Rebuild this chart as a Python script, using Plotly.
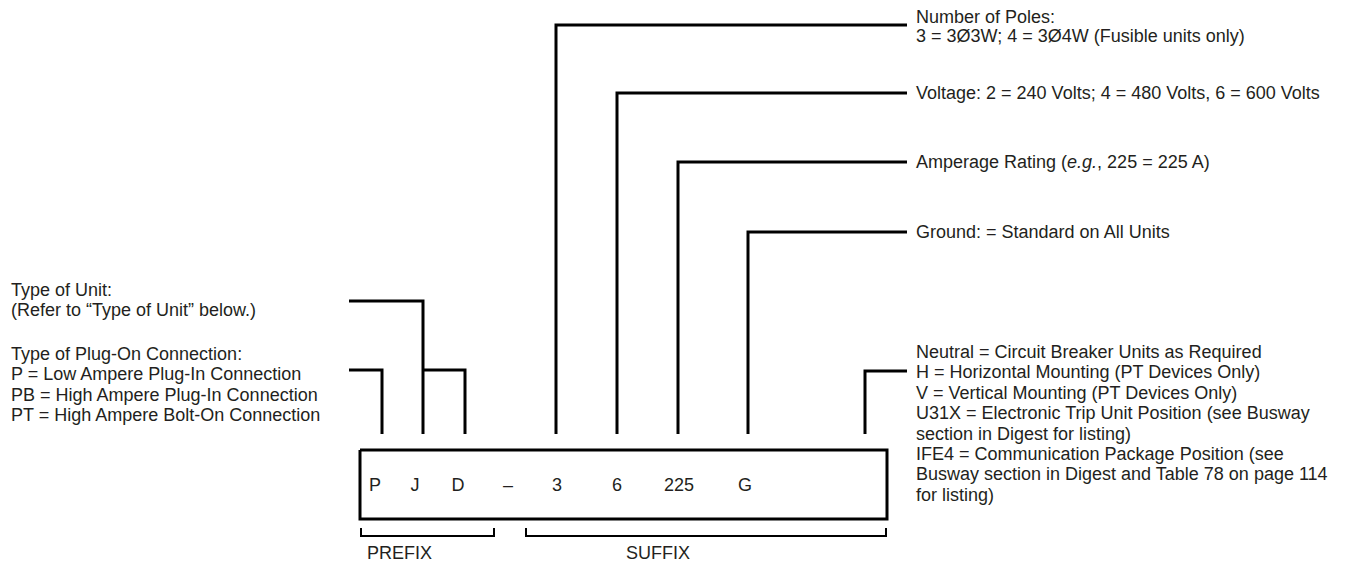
import plotly.graph_objects as go

# catalog number characters shown in the box
code_chars = ["P", "J", "D", "–", "3", "6", "225", "G"]
code_x = [375, 415, 458, 508, 557, 617, 679, 745]

# leaders: (box x, turn y, end x)
leader_x = [556, 617, 678, 748, 865, 423, 382]
leader_y = [25, 93, 162, 232, 371, 301, 370]
leader_end = [907, 907, 907, 907, 907, 349, 349]

# right-hand descriptions (line texts, first line y, line step)
right_blocks = [
    (["Number of Poles:", "3 = 3Ø3W; 4 = 3Ø4W (Fusible units only)"], 17, 19),
    (["Voltage: 2 = 240 Volts; 4 = 480 Volts, 6 = 600 Volts"], 93, 20.4),
    (["Amperage Rating (<i>e.g.</i>, 225 = 225 A)"], 162, 20.4),
    (["Ground: = Standard on All Units"], 232, 20.4),
    (["Neutral = Circuit Breaker Units as Required",
      "H = Horizontal Mounting (PT Devices Only)",
      "V = Vertical Mounting (PT Devices Only)",
      "U31X = Electronic Trip Unit Position (see Busway",
      "section in Digest for listing)",
      "IFE4 = Communication Package Position (see",
      "Busway section in Digest and Table 78 on page 114",
      "for listing)"], 352, 20.4),
]

# left-hand descriptions
left_blocks = [
    (["Type of Unit:", "(Refer to “Type of Unit” below.)"], 290, 20.4),
    (["Type of Plug-On Connection:",
      "P = Low Ampere Plug-In Connection",
      "PB = High Ampere Plug-In Connection",
      "PT = High Ampere Bolt-On Connection"], 354, 20.4),
]

FONT = dict(family="Arial, Liberation Sans, sans-serif", size=18, color="#231f20")
LINE = dict(color="black", width=3)
BOX = (360, 450, 887, 519)
PAGE_OFFSET = 8  # browser body margin

fig = go.Figure()

# leader lines
xs, ys = [], []
for lx, ly, le in zip(leader_x, leader_y, leader_end):
    xs += [lx, lx, le, None]
    ys += [434, ly, ly, None]
# small bracket from the J leader down to D
xs += [423, 465, 465, None]
ys += [370, 370, 434, None]
fig.add_trace(go.Scatter(x=xs, y=ys, mode="lines", line=LINE, hoverinfo="skip"))

# box
x0, y0, x1, y1 = BOX
fig.add_trace(go.Scatter(x=[x0, x1, x1, x0, x0], y=[y0, y0, y1, y1, y0],
                         mode="lines", line=LINE, hoverinfo="skip"))

# prefix / suffix brackets
fig.add_trace(go.Scatter(
    x=[361, 361, 494, 494, None, 526, 526, 886, 886],
    y=[528, 536, 536, 528, None, 528, 536, 536, 528],
    mode="lines", line=dict(color="black", width=2), hoverinfo="skip"))

# characters inside the box
fig.add_trace(go.Scatter(x=code_x, y=[486] * len(code_x), mode="text",
                         text=code_chars, textfont=FONT, hoverinfo="skip"))

anns = []
for lines, y_start, step in right_blocks:
    for i, t in enumerate(lines):
        anns.append(dict(x=915, y=y_start + i * step, text=t))
for lines, y_start, step in left_blocks:
    for i, t in enumerate(lines):
        anns.append(dict(x=10, y=y_start + i * step, text=t))
anns.append(dict(x=366, y=553, text="PREFIX"))
anns.append(dict(x=658, y=553, text="SUFFIX", xanchor="center"))

for a in anns:
    fig.add_annotation(
        x=a["x"], y=a["y"], text=a["text"], xref="x", yref="y",
        xanchor=a.get("xanchor", "left"), yanchor="middle",
        showarrow=False, font=FONT, align="left", borderpad=0,
    )

fig.update_layout(
    width=1359, height=563,
    margin=dict(l=0, r=0, t=0, b=0),
    plot_bgcolor="white", paper_bgcolor="white",
    showlegend=False,
    xaxis=dict(range=[PAGE_OFFSET, 1359 + PAGE_OFFSET], visible=False, fixedrange=True),
    yaxis=dict(range=[563 + PAGE_OFFSET, PAGE_OFFSET], visible=False, fixedrange=True),
)

fig.write_html("out.html")
